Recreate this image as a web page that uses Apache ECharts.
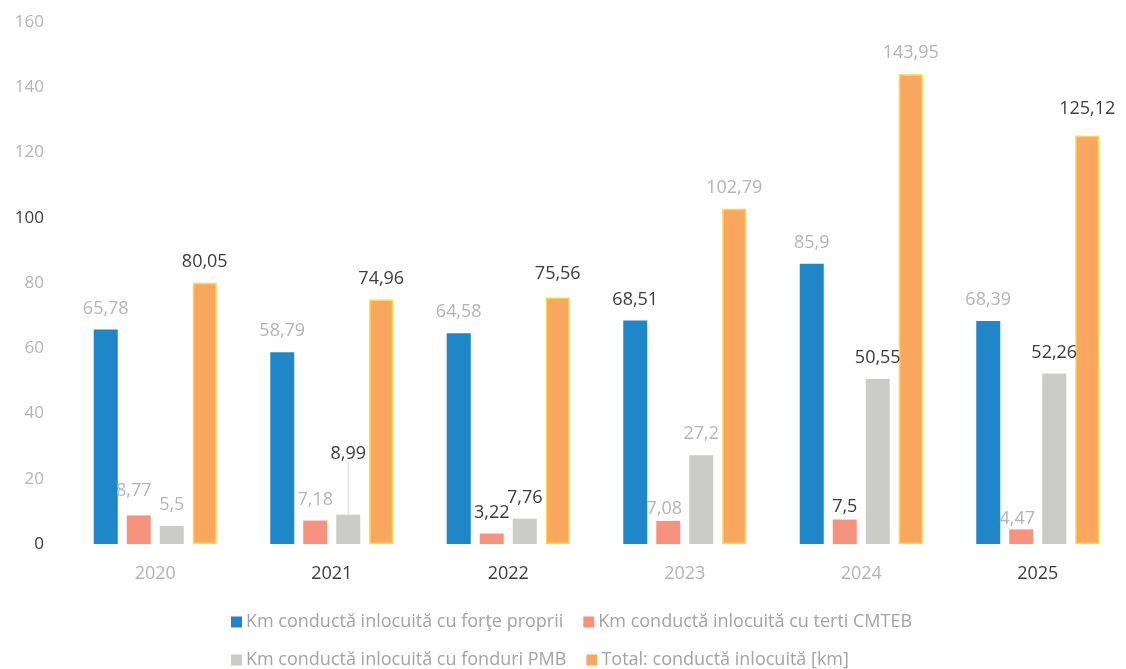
<!DOCTYPE html>
<html>
<head>
<meta charset="utf-8">
<script src="https://cdn.jsdelivr.net/npm/echarts@6/dist/echarts.min.js"></script>
<style>
html,body{margin:0;padding:0;background:#fff;}
#chart{width:1126px;height:669px;}
</style>
</head>
<body>
<div id="chart"></div>
<script>
// ---- data ----
const categories = ['2020', '2021', '2022', '2023', '2024', '2025'];
const seriesNames = [
  'Km conductă inlocuită cu forţe proprii',
  'Km conductă inlocuită cu terti CMTEB',
  'Km conductă inlocuită cu fonduri PMB',
  'Total: conductă inlocuită [km]'
];
const proprii = [65.78, 58.79, 64.58, 68.51, 85.9, 68.39];
const terti   = [8.77, 7.18, 3.22, 7.08, 7.5, 4.47];
const pmb     = [5.5, 8.99, 7.76, 27.2, 50.55, 52.26];
const total   = [80.05, 74.96, 75.56, 102.79, 143.95, 125.12];
const yMin = 0, yMax = 160, yStep = 20;

// ---- styles (kept apart from data) ----
const colors = ['#1F87C8', '#F5937E', '#CBCBC7', '#F9A75E'];
const DARK = '#3c3c3c', LIGHT = '#b4b4b4';
const darkLabels = {0: [3], 1: [2, 4], 2: [1, 2, 4, 5], 3: [0, 1, 2, 5]};
const labelNudge = { // [dx, dy]
  '1-0': [-5, -4], '2-0': [0, -6], '1-3': [-4, 9], '2-3': [0, 6],
  '1-4': [0, 8], '1-5': [-4, 10], '2-5': [-22, 0], '3-5': [0, -6], '3-2': [0, -3]
};
const darkX = ['2021', '2022', '2025'];
const darkY = [0, 100];

const allValues = [proprii, terti, pmb, total];
const fmt = v => String(v).replace('.', ',');

const series = allValues.map((vals, s) => ({
  name: seriesNames[s],
  type: 'bar',
  barWidth: 24,
  barGap: '37.5%',
  itemStyle: s === 3 ? {color: colors[s], borderColor: '#FFD54F', borderWidth: 1.5} : {color: colors[s]},
  label: {
    show: true,
    position: 'top',
    distance: 12,
    fontFamily: 'Open Sans',
    fontSize: 18,
    formatter: p => fmt(p.value)
  },
  labelLine: {show: false},
  labelLayout: s === 2 ? function (p) { if (p.dataIndex === 1) return {dy: -40}; } : undefined,
  data: vals.map((v, i) => {
    const nudge = labelNudge[s + '-' + i] || [0, 0];
    const item = {
      value: v,
      label: {color: darkLabels[s].includes(i) ? DARK : LIGHT, offset: nudge}
    };
    if (s === 2 && i === 1) item.labelLine = {show: true, lineStyle: {color: '#d6d6d6', width: 1}};
    return item;
  })
}));

const legendBase = {
  left: 226,
  icon: 'rect', itemWidth: 11, itemHeight: 11, itemGap: 20,
  itemStyle: {borderWidth: 0},
  textStyle: {color: '#a3a3a3', fontFamily: 'Open Sans', fontSize: 18, padding: [0, 0, 0, -1]}
};

const chart = echarts.init(document.getElementById('chart'), null, {renderer: 'canvas'});
chart.setOption({
  animation: false,
  backgroundColor: '#ffffff',
  color: colors,
  grid: {left: 67, top: 22, width: 1068, height: 522, containLabel: false},
  legend: [
    Object.assign({}, legendBase, {data: seriesNames.slice(0, 2), top: 608}),
    Object.assign({}, legendBase, {data: seriesNames.slice(2, 4), top: 646})
  ],
  xAxis: {
    type: 'category',
    data: categories,
    axisLine: {show: false},
    axisTick: {show: false},
    axisLabel: {
      margin: 21,
      fontFamily: 'Open Sans',
      fontSize: 18,
      color: v => darkX.includes(v) ? DARK : LIGHT
    }
  },
  yAxis: {
    type: 'value',
    min: yMin, max: yMax, interval: yStep,
    splitLine: {show: false},
    axisLine: {show: false},
    axisTick: {show: false},
    axisLabel: {
      margin: 23,
      fontFamily: 'Open Sans',
      fontSize: 17,
      color: v => darkY.includes(Number(v)) ? DARK : LIGHT
    }
  },
  series: series
});
</script>
</body>
</html>
